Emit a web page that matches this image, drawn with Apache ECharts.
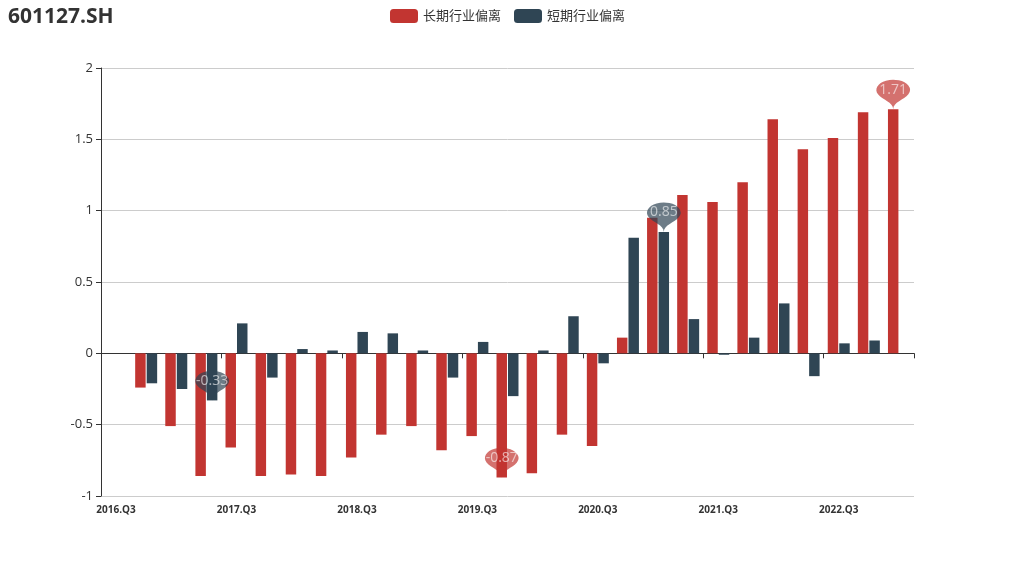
<!DOCTYPE html>
<html>
<head>
<meta charset="utf-8">
<script src="https://cdn.jsdelivr.net/npm/echarts@6/dist/echarts.min.js"></script>
<style>
html,body{margin:0;padding:0;background:#fff;}
#main{width:1015px;height:564px;}
</style>
</head>
<body>
<div id="main"></div>
<script>
const titleText = '601127.SH';
const categories = ['2016.Q3','2016.Q4','2017.Q1','2017.Q2','2017.Q3','2017.Q4','2018.Q1','2018.Q2','2018.Q3','2018.Q4','2019.Q1','2019.Q2','2019.Q3','2019.Q4','2020.Q1','2020.Q2','2020.Q3','2020.Q4','2021.Q1','2021.Q2','2021.Q3','2021.Q4','2022.Q1','2022.Q2','2022.Q3','2022.Q4','2023.Q1'];
const longName = '长期行业偏离';
const shortName = '短期行业偏离';
const longDev = [null, -0.24, -0.51, -0.86, -0.66, -0.86, -0.85, -0.86, -0.73, -0.57, -0.51, -0.68, -0.58, -0.87, -0.84, -0.57, -0.65, 0.11, 0.95, 1.11, 1.06, 1.20, 1.64, 1.43, 1.51, 1.69, 1.71];
const shortDev = [null, -0.21, -0.25, -0.33, 0.21, -0.17, 0.03, 0.02, 0.15, 0.14, 0.02, -0.17, 0.08, -0.30, 0.02, 0.26, -0.07, 0.81, 0.85, 0.24, -0.01, 0.11, 0.35, -0.16, 0.07, 0.09, null];

const FONT = '"Open Sans", "Noto Sans CJK SC", sans-serif';
const chart = echarts.init(document.getElementById('main'));

function markPointCfg(color) {
  return {
    symbol: 'pin',
    symbolSize: [56, 34],
    itemStyle: { color: color, opacity: 0.7 },
    label: { color: 'rgba(255,255,255,0.85)', fontSize: 14, fontFamily: FONT, offset: [0, -2] },
    data: [{ type: 'max', name: 'max' }, { type: 'min', name: 'min' }]
  };
}

chart.setOption({
  animation: false,
  textStyle: { fontFamily: FONT },
  title: {
    text: titleText, left: 3, top: 2,
    textStyle: { fontSize: 21, fontWeight: 'bold', color: '#333', fontFamily: FONT }
  },
  legend: {
    top: 4, left: 'center',
    itemWidth: 28, itemHeight: 14, itemGap: 13,
    textStyle: { fontSize: 13, color: '#333', fontFamily: FONT },
    data: [longName, shortName]
  },
  grid: { left: 101, right: 101, top: 68, bottom: 68 },
  xAxis: [
    {
      type: 'category', data: categories, position: 'bottom',
      axisLine: { onZero: true, lineStyle: { color: '#333' } },
      axisTick: { show: true, interval: 3 },
      axisLabel: { show: false, interval: 3 }
    },
    {
      type: 'category', data: categories, position: 'bottom',
      axisLine: { show: false, onZero: false },
      axisTick: { show: false },
      axisLabel: { interval: 3, fontSize: 10, fontWeight: 'bold', color: '#333', fontFamily: FONT, margin: 9 }
    }
  ],
  yAxis: {
    type: 'value', min: -1, max: 2, interval: 0.5,
    axisLine: { show: true, lineStyle: { color: '#333' } },
    axisTick: { show: true },
    axisLabel: { fontSize: 13, color: '#333', fontFamily: FONT },
    splitLine: { lineStyle: { color: '#ccc' } }
  },
  series: [
    {
      name: longName, type: 'bar', xAxisIndex: 0, data: longDev,
      itemStyle: { color: '#c23531' },
      markPoint: markPointCfg('#c23531')
    },
    {
      name: shortName, type: 'bar', xAxisIndex: 0, data: shortDev,
      itemStyle: { color: '#2f4554' },
      markPoint: markPointCfg('#2f4554')
    }
  ]
});
</script>
</body>
</html>
